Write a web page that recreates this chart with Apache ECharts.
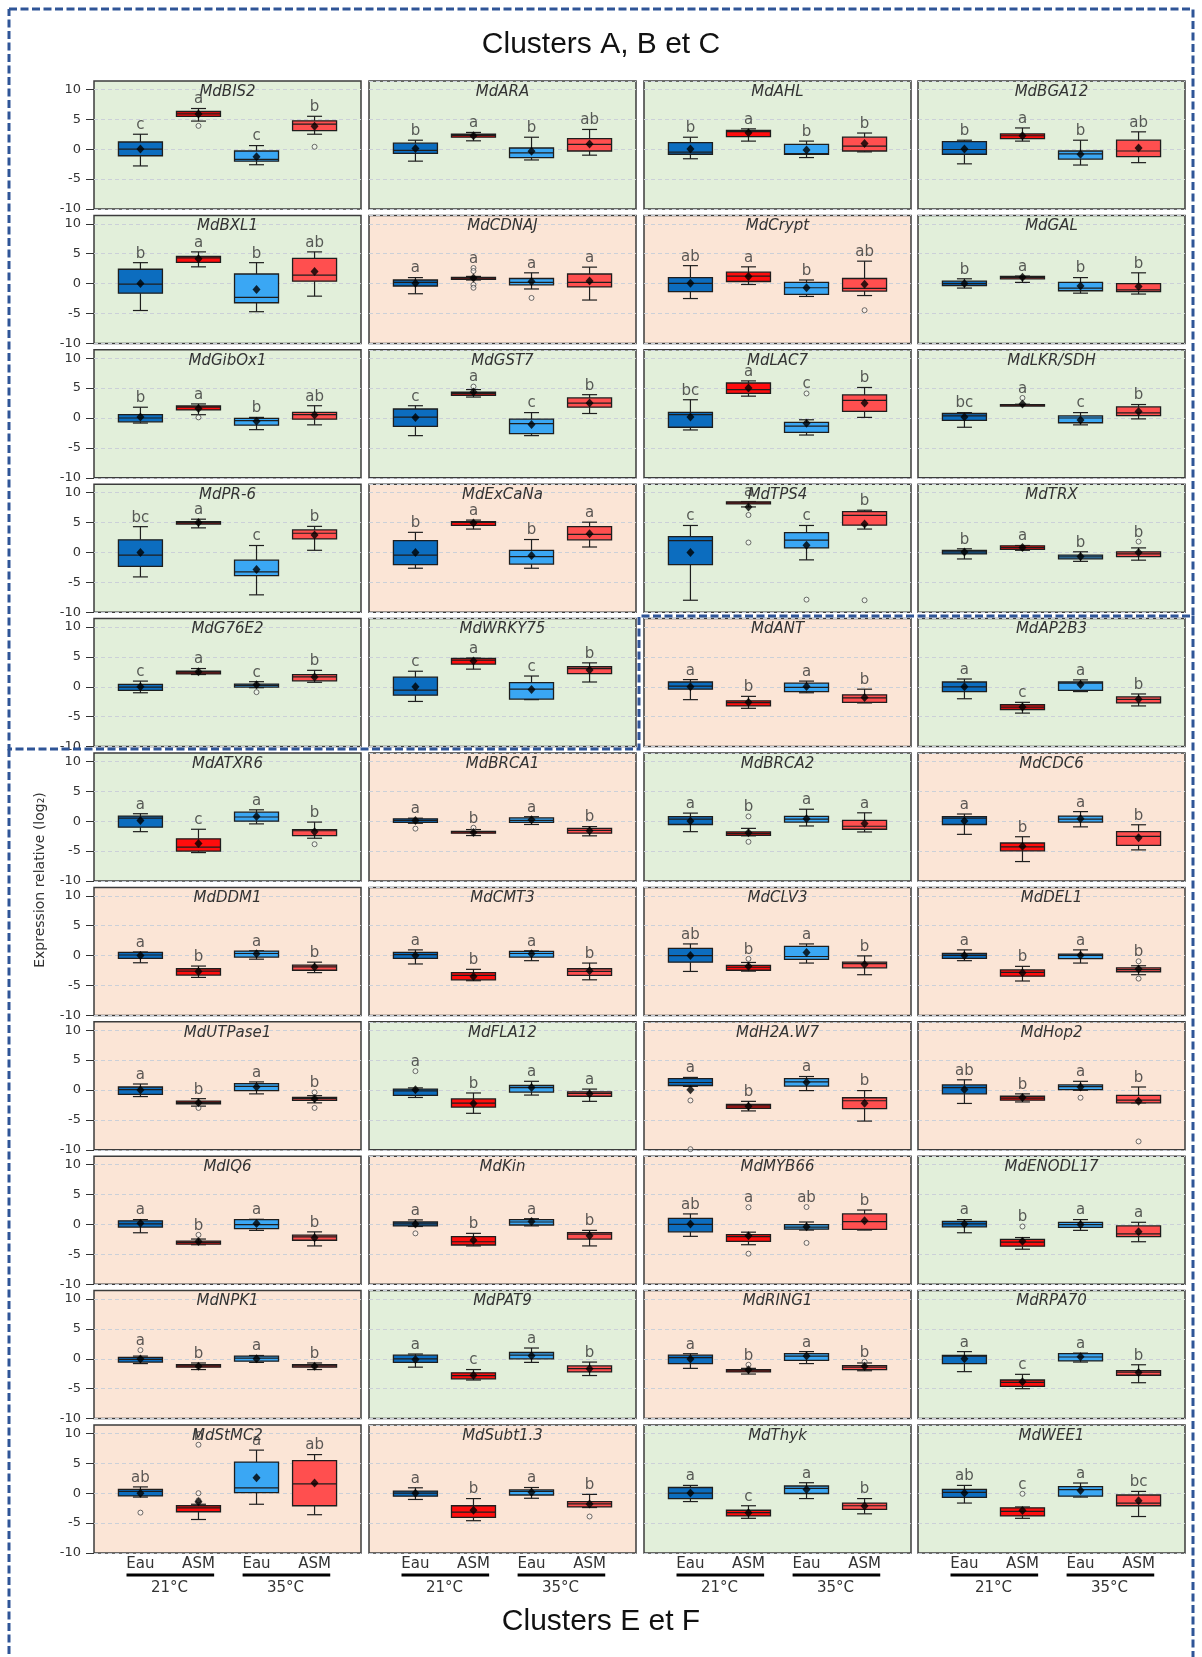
<!DOCTYPE html>
<html>
<head>
<meta charset="utf-8">
<script src="https://cdn.jsdelivr.net/npm/echarts@6/dist/echarts.min.js"></script>
<style>
  html, body { margin: 0; padding: 0; background: #ffffff; }
  #chart { width: 1202px; height: 1657px; }
</style>
</head>
<body>
<div id="chart"></div>
<script>
// ---- Data -------------------------------------------------------------
// Panels in reading order (4 per row).
const GENES = [
  'MdBIS2', 'MdARA', 'MdAHL', 'MdBGA12',
  'MdBXL1', 'MdCDNAJ', 'MdCrypt', 'MdGAL',
  'MdGibOx1', 'MdGST7', 'MdLAC7', 'MdLKR/SDH',
  'MdPR-6', 'MdExCaNa', 'MdTPS4', 'MdTRX',
  'MdG76E2', 'MdWRKY75', 'MdANT', 'MdAP2B3',
  'MdATXR6', 'MdBRCA1', 'MdBRCA2', 'MdCDC6',
  'MdDDM1', 'MdCMT3', 'MdCLV3', 'MdDEL1',
  'MdUTPase1', 'MdFLA12', 'MdH2A.W7', 'MdHop2',
  'MdIQ6', 'MdKin', 'MdMYB66', 'MdENODL17',
  'MdNPK1', 'MdPAT9', 'MdRING1', 'MdRPA70',
  'MdStMC2', 'MdSubt1.3', 'MdThyk', 'MdWEE1'
];

// Panel shading: 'G' = green, 'P' = pink.
const PANEL_KIND = [
  'G', 'G', 'G', 'G',
  'G', 'P', 'P', 'G',
  'G', 'G', 'G', 'G',
  'G', 'P', 'G', 'G',
  'G', 'G', 'P', 'G',
  'G', 'P', 'G', 'P',
  'P', 'P', 'P', 'P',
  'P', 'G', 'P', 'P',
  'P', 'P', 'P', 'G',
  'P', 'G', 'P', 'G',
  'P', 'P', 'G', 'G'
];

// Five-number summaries [min, Q1, median, Q3, max] for Eau 21, ASM 21, Eau 35, ASM 35.
const BOX_STATS = [
  [[-2.8,-1.1,0,1.2,2.5],[4.7,5.5,5.9,6.3,6.8],[-2.6,-2.0,-1.7,-0.3,0.6],[2.5,3.1,4.2,4.75,5.5]],
  [[-2.0,-0.7,-0.2,1.0,1.5],[1.4,2.0,2.3,2.5,2.8],[-1.8,-1.4,-0.6,0.2,2.0],[-1.0,-0.3,0.8,1.75,3.3]],
  [[-1.6,-0.85,-0.5,1.1,2.0],[1.35,2.1,2.95,3.15,3.4],[-1.4,-0.85,-0.75,0.8,1.35],[-0.45,-0.3,0.5,2.0,2.7]],
  [[-2.45,-0.85,-0.05,1.25,1.5],[1.35,1.75,2.25,2.55,3.55],[-2.65,-1.65,-0.8,-0.3,1.5],[-2.25,-1.25,-0.3,1.5,2.9]],
  [[-4.5,-1.6,-0.1,2.4,3.5],[2.8,3.55,4.3,4.55,5.3],[-4.7,-3.2,-2.3,1.6,3.5],[-2.1,0.4,1.4,4.2,5.3]],
  [[-1.7,-0.4,0.2,0.6,1.0],[0.6,0.7,0.9,1.05,1.2],[-0.9,-0.2,0.2,0.85,1.8],[-2.75,-0.55,0.2,1.6,2.75]],
  [[-2.5,-1.35,0.05,1.0,3.0],[-0.15,0.35,1.25,1.9,2.8],[-2.15,-1.8,-0.7,0.2,0.6],[-2.0,-1.25,-0.8,0.85,3.75]],
  [[-0.75,-0.35,0,0.4,0.8],[0.2,0.8,1.05,1.2,1.25],[-1.6,-1.2,-0.75,0.2,1.0],[-1.75,-1.35,-1.05,0,1.8]],
  [[-0.85,-0.65,0,0.55,1.8],[0.55,1.35,1.8,2.0,2.35],[-1.95,-1.2,-0.45,-0.05,0.1],[-1.15,-0.2,0.55,0.95,2.05]],
  [[-2.95,-1.4,0.15,1.5,2.05],[3.5,3.8,4.1,4.3,4.75],[-2.95,-2.6,-0.95,-0.2,0.9],[0.75,1.8,2.5,3.35,3.9]],
  [[-2.0,-1.55,0.55,0.95,3.05],[3.65,4.1,4.75,5.85,6.2],[-2.85,-2.4,-1.35,-0.75,-0.3],[0.1,1.1,2.95,3.85,5.1]],
  [[-1.55,-0.4,0.35,0.75,0.9],[2.1,2.15,2.2,2.25,2.3],[-1.15,-0.8,0,0.35,0.9],[-0.15,0.4,0.85,1.85,2.25]],
  [[-4.1,-2.35,-0.45,2.1,4.3],[4.1,4.75,5.0,5.15,5.55],[-7.1,-3.9,-3.25,-1.3,1.15],[0.35,2.25,3.2,3.75,4.35]],
  [[-2.65,-2.05,-0.45,1.95,3.35],[3.9,4.5,5.0,5.15,5.4],[-2.65,-1.95,-0.7,0.35,2.15],[0.9,2.1,3.0,4.3,5.05]],
  [[-8.0,-2.05,1.95,2.65,4.5],[7.6,8.1,8.3,8.45,8.5],[-1.25,0.75,2.05,3.3,4.5],[3.9,4.55,6.2,6.8,7.05]],
  [[-1.1,-0.25,0.1,0.35,0.6],[0.35,0.5,0.8,1.1,1.15],[-1.5,-1.1,-0.75,-0.45,0.1],[-1.3,-0.7,-0.25,0.1,0.75]],
  [[-1.0,-0.6,-0.05,0.4,0.95],[2.05,2.15,2.35,2.6,3.05],[-0.15,-0.05,0.25,0.45,0.85],[0.75,1.0,1.65,2.05,2.75]],
  [[-2.45,-1.4,-0.55,1.6,2.6],[2.95,3.8,4.45,4.75,4.8],[-2.15,-2.05,-0.4,0.7,1.8],[0.8,2.2,3.05,3.35,4.0]],
  [[-2.15,-0.4,0.1,0.8,1.2],[-3.6,-3.2,-2.65,-2.35,-1.6],[-1.0,-0.8,-0.1,0.6,0.95],[-2.7,-2.6,-1.85,-1.35,-0.4]],
  [[-2.0,-0.8,0,0.8,1.3],[-4.4,-3.8,-3.4,-3.0,-2.6],[-0.8,-0.6,0.6,0.8,1.15],[-3.2,-2.7,-2.1,-1.7,-1.2]],
  [[-1.75,-1.0,0.5,0.85,1.25],[-5.25,-5.0,-4.35,-2.95,-1.35],[-0.45,0,0.7,1.5,1.9],[-2.85,-2.4,-1.6,-1.4,-0.15]],
  [[-0.35,-0.2,0.15,0.4,0.5],[-2.4,-2.0,-1.8,-1.7,-1.4],[-0.55,-0.2,0.15,0.55,0.75],[-2.45,-2.0,-1.55,-1.2,-0.9]],
  [[-1.75,-0.55,0.35,0.75,1.35],[-2.45,-2.35,-2.05,-1.8,-1.2],[-0.8,-0.15,0.35,0.8,2.0],[-1.8,-1.35,-0.85,0.15,1.4]],
  [[-2.2,-0.55,0.5,0.75,1.2],[-6.75,-4.95,-4.3,-3.65,-2.6],[-0.95,-0.15,0.35,0.85,1.6],[-4.8,-4.05,-2.55,-1.75,-0.6]],
  [[-1.2,-0.45,0.1,0.55,0.6],[-3.65,-3.25,-2.6,-2.2,-1.75],[-0.6,-0.25,0.35,0.75,0.8],[-2.85,-2.45,-1.9,-1.6,-1.1]],
  [[-1.4,-0.45,0.15,0.55,0.95],[-4.2,-4.05,-3.3,-2.85,-2.3],[-0.85,-0.25,0.35,0.7,0.8],[-4.05,-3.3,-2.65,-2.2,-1.25]],
  [[-2.65,-1.1,0,1.2,1.95],[-2.6,-2.45,-1.95,-1.65,-1.15],[-1.25,-0.65,-0.15,1.55,1.95],[-3.2,-2.05,-1.35,-1.1,-0.05]],
  [[-0.85,-0.45,0.05,0.35,0.95],[-4.25,-3.45,-2.8,-2.4,-1.8],[-1.25,-0.5,0.05,0.25,0.95],[-3.2,-2.7,-2.35,-2.05,-1.7]],
  [[-1.1,-0.75,0.05,0.5,1.0],[-2.7,-2.3,-2.1,-1.85,-1.45],[-0.65,-0.1,0.6,1.05,1.35],[-2.15,-1.75,-1.45,-1.25,-0.95]],
  [[-1.25,-0.9,-0.15,0.15,0.35],[-3.9,-2.85,-2.2,-1.5,-0.5],[-0.85,-0.35,0.4,0.75,1.45],[-1.9,-1.05,-0.55,-0.3,0.15]],
  [[0.6,0.75,1.25,1.9,2.1],[-3.5,-3.05,-2.65,-2.4,-1.9],[-0.1,0.65,1.35,1.9,2.25],[-5.2,-3.1,-1.8,-1.3,-0.1]],
  [[-2.25,-0.65,0.4,0.85,1.7],[-2.0,-1.7,-1.35,-1.05,-0.65],[-0.05,0.05,0.55,0.85,1.45],[-2.15,-2.15,-1.7,-0.9,0.5]],
  [[-1.4,-0.45,0.1,0.6,0.8],[-3.4,-3.3,-3.0,-2.8,-2.45],[-1.0,-0.7,-0.05,0.8,0.85],[-3.6,-2.65,-2.1,-1.8,-1.25]],
  [[-0.35,-0.25,0.1,0.4,0.75],[-3.6,-3.45,-2.9,-2.05,-1.5],[-0.25,-0.1,0.4,0.8,0.95],[-3.6,-2.45,-1.65,-1.4,-1.0]],
  [[-2.0,-1.25,0,1.0,1.75],[-3.4,-2.85,-2.05,-1.7,-1.3],[-0.95,-0.8,-0.45,-0.05,0.4],[-0.95,-0.85,0.45,1.75,2.4]],
  [[-1.4,-0.4,0.1,0.5,0.8],[-4.15,-3.65,-2.95,-2.5,-2.2],[-1.0,-0.5,-0.05,0.35,0.8],[-2.9,-2.05,-1.6,-0.25,0.35]],
  [[-0.8,-0.55,-0.1,0.25,0.45],[-1.8,-1.4,-1.2,-1.0,-0.7],[-0.6,-0.4,0.1,0.45,0.55],[-1.8,-1.4,-1.2,-1.0,-0.7]],
  [[-1.4,-0.6,0,0.6,0.8],[-3.55,-3.35,-2.8,-2.35,-1.8],[-0.6,0,0.6,1.05,1.8],[-2.8,-2.2,-1.65,-1.2,-0.55]],
  [[-1.6,-0.8,0.2,0.6,0.85],[-2.55,-2.2,-2.0,-1.8,-1.6],[-0.8,-0.25,0.45,0.85,1.2],[-2.0,-1.8,-1.4,-1.15,-0.7]],
  [[-2.15,-0.8,0.45,0.55,1.2],[-5.0,-4.6,-3.95,-3.55,-2.6],[-0.55,-0.35,0.3,0.85,0.95],[-4.0,-2.75,-2.25,-2.0,-1.0]],
  [[-0.65,-0.45,0.3,0.65,1.05],[-4.4,-3.1,-2.45,-2.1,-1.85],[-1.85,0.1,0.9,5.2,7.2],[-3.6,-2.1,1.55,5.45,6.45]],
  [[-1.05,-0.5,0,0.35,0.9],[-4.6,-4.05,-3.15,-2.1,-0.9],[-0.85,-0.3,0.3,0.55,0.95],[-2.4,-2.3,-1.8,-1.4,-0.2]],
  [[-1.4,-0.9,0,0.95,1.3],[-4.2,-3.8,-3.25,-2.85,-2.1],[-0.9,-0.05,0.8,1.2,1.75],[-3.45,-2.7,-2.1,-1.65,-0.9]],
  [[-1.65,-0.7,0.15,0.65,1.3],[-4.2,-3.8,-3.05,-2.45,-2.3],[-0.65,-0.5,0.6,1.1,1.7],[-3.9,-2.1,-1.65,-0.3,0.3]]
];

// Group means (black diamonds).
const MEANS = [
  [0.05,5.9,-1.25,3.85],[0.1,2.25,-0.35,0.85],[0.05,2.75,-0.15,0.95],[0.05,2.25,-0.85,0.2],
  [0,4.15,-1.0,2.0],[0.05,0.95,0.35,0.45],[0.05,1.2,-0.7,-0.1],[0,1.05,-0.4,-0.5],
  [0.15,1.6,-0.55,0.5],[0.1,4.35,-1.1,2.5],[0.15,5.0,-0.9,2.5],[0.15,2.35,-0.35,1.1],
  [0,5.0,-2.85,2.9],[0,4.9,-0.5,3.1],[0,7.6,1.2,4.75],[0.05,0.8,-0.7,0],
  [0,2.5,0.35,1.65],[0,4.3,-0.45,2.8],[0,-2.6,0.05,-1.8],[0,-3.4,0.4,-2.1],
  [0.1,-3.75,0.8,-1.75],[0.1,-1.9,0.25,-1.6],[0.05,-1.95,0.4,-0.4],[0.05,-4.2,0.4,-2.75],
  [0,-2.65,0.3,-1.9],[0,-3.5,0.3,-2.55],[0,-1.8,0.5,-1.5],[0,-2.85,0.05,-2.25],
  [0,-2.15,0.5,-1.45],[0.05,-2.25,0.4,-0.65],[0.05,-2.7,1.3,-2.2],[0.1,-1.25,0.5,-1.9],
  [0.2,-2.85,0.15,-2.25],[0.05,-2.65,0.5,-1.9],[0.05,-1.9,-0.4,0.6],[0.05,-2.8,0,-1.25],
  [-0.05,-1.25,0,-1.25],[-0.1,-2.75,0.5,-1.65],[-0.05,-1.85,0.45,-1.25],[0,-3.85,0.35,-2.3],
  [0,-1.45,2.6,1.7],[0,-2.85,0.15,-1.8],[0.05,-3.25,0.6,-2.15],[0.05,-2.9,0.45,-1.25]
];

// Outlying observations per group (open circles).
const OUTLIERS = [
  [[],[3.9],[],[0.4]],[[],[],[],[]],[[],[],[],[]],[[],[],[],[]],
  [[],[],[],[]],[[],[2.6,2.1,-0.2,-0.7],[-2.4],[]],[[],[],[],[-4.45]],[[],[],[],[]],
  [[],[0.1],[],[]],[[],[5.25],[],[]],[[],[],[4.1],[]],[[],[3.35],[],[]],
  [[],[],[],[]],[[],[],[],[]],[[],[6.25,1.65],[-7.9],[-8.0]],[[],[],[],[1.8]],
  [[],[],[-0.9],[]],[[],[],[],[]],[[],[],[],[]],[[],[],[],[]],
  [[],[],[],[-3.85]],[[-1.25],[-1.1],[],[]],[[],[0.8,-3.45],[],[]],[[],[],[],[]],
  [[],[],[],[]],[[],[],[],[]],[[],[-0.55],[],[]],[[],[],[],[-0.95,-3.85]],
  [[],[-3.0],[],[-0.4,-3.0]],[[3.15],[],[],[]],[[-1.75,-9.9],[],[],[]],[[],[],[-1.3],[-8.6]],
  [[],[-1.75],[],[]],[[-1.5],[],[],[]],[[],[2.85,-4.9],[2.9,-3.1],[]],[[],[-0.35],[],[]],
  [[1.45],[],[],[]],[[],[],[],[]],[[],[-1.0],[],[-0.5]],[[],[],[],[]],
  [[-3.25],[8.1,0.0,-1.2],[],[]],[[],[],[],[-3.9]],[[],[],[],[]],[[],[-0.1],[],[]]
];

// Significance groups drawn above each box.
const LETTERS = [
  ['c','a','c','b'],['b','a','b','ab'],['b','a','b','b'],['b','a','b','ab'],
  ['b','a','b','ab'],['a','a','a','a'],['ab','a','b','ab'],['b','a','b','b'],
  ['b','a','b','ab'],['c','a','c','b'],['bc','a','c','b'],['bc','a','c','b'],
  ['bc','a','c','b'],['b','a','b','a'],['c','a','c','b'],['b','a','b','b'],
  ['c','a','c','b'],['c','a','c','b'],['a','b','a','b'],['a','c','a','b'],
  ['a','c','a','b'],['a','b','a','b'],['a','b','a','a'],['a','b','a','b'],
  ['a','b','a','b'],['a','b','a','b'],['ab','b','a','b'],['a','b','a','b'],
  ['a','b','a','b'],['a','b','a','a'],['a','b','a','b'],['ab','b','a','b'],
  ['a','b','a','b'],['a','b','a','b'],['ab','a','ab','b'],['a','b','a','a'],
  ['a','b','a','b'],['a','c','a','b'],['a','b','a','b'],['a','c','a','b'],
  ['ab','b','a','ab'],['a','b','a','b'],['a','c','a','b'],['ab','c','a','bc']
];

const GROUP_LABELS = ['Eau', 'ASM', 'Eau', 'ASM'];
const TEMPERATURES = ['21°C', '35°C'];
const Y_TICKS = [-10, -5, 0, 5, 10];
const CLUSTER_TITLES = ['Clusters A, B et C', 'Clusters E et F'];
const Y_AXIS_TITLE = 'Expression relative (log₂)';

// ---- Layout & style ---------------------------------------------------
const NCOLS = 4;
const NROWS = Math.ceil(GENES.length / NCOLS);
const COL_LEFT = [94, 369, 644, 918];
const ROW_TOP = 81;
const ROW_PITCH = 134.4;
const PANEL_W = 267;
const PANEL_H = 128;
const X_MIN = 0.2, X_MAX = 4.8;
const Y_MIN = -10, Y_MAX = 11.4;
const BOX_W = 44;
const CAP_W = 15;
const STROKE = '#1e1e1e';
const BOX_COLORS = ['#0c6dbf', '#ff0d0d', '#3aa7f4', '#ff4f4f'];
const BG = { G: '#e2efda', P: '#fbe5d6' };
const FONT = 'DejaVu Sans';
const TEXT = '#333333';
const DASH_BLUE = '#2f5597';

function drawBox(params, api) {
  const x = api.value(0);
  const pMin = api.coord([x, api.value(1)]);
  const pQ1 = api.coord([x, api.value(2)]);
  const pMed = api.coord([x, api.value(3)]);
  const pQ3 = api.coord([x, api.value(4)]);
  const pMax = api.coord([x, api.value(5)]);
  const cx = pMin[0], hw = BOX_W / 2, hc = CAP_W / 2;
  const line = { stroke: STROKE, lineWidth: 1.2 };
  return {
    type: 'group',
    children: [
      { type: 'line', shape: { x1: cx, y1: pMax[1], x2: cx, y2: pQ3[1] }, style: line },
      { type: 'line', shape: { x1: cx, y1: pQ1[1], x2: cx, y2: pMin[1] }, style: line },
      { type: 'line', shape: { x1: cx - hc, y1: pMax[1], x2: cx + hc, y2: pMax[1] }, style: line },
      { type: 'line', shape: { x1: cx - hc, y1: pMin[1], x2: cx + hc, y2: pMin[1] }, style: line },
      {
        type: 'rect',
        shape: { x: cx - hw, y: pQ3[1], width: BOX_W, height: Math.max(pQ1[1] - pQ3[1], 1.5) },
        style: { fill: BOX_COLORS[params.dataIndex], stroke: STROKE, lineWidth: 1.3 }
      },
      { type: 'line', shape: { x1: cx - hw, y1: pMed[1], x2: cx + hw, y2: pMed[1] }, style: { stroke: STROKE, lineWidth: 1.2 } }
    ]
  };
}

// Bar under each temperature pair, drawn just below the bottom axis.
function drawPairBar(params, api) {
  const a = api.coord([api.value(0), api.value(2)]);
  const b = api.coord([api.value(1), api.value(2)]);
  return {
    type: 'line',
    shape: { x1: a[0], y1: a[1] + 22, x2: b[0], y2: b[1] + 22 },
    style: { stroke: '#000', lineWidth: 3.2 }
  };
}

const grids = [], xAxes = [], yAxes = [], series = [], graphics = [];
const extraX = [];

GENES.forEach((gene, k) => {
  const r = Math.floor(k / NCOLS), c = k % NCOLS;
  const left = COL_LEFT[c];
  const top = ROW_TOP + r * ROW_PITCH;
  const isBottom = r === NROWS - 1;
  const isFirstCol = c === 0;

  grids.push({
    left, top, width: PANEL_W, height: PANEL_H,
    show: true, backgroundColor: BG[PANEL_KIND[k]],
    borderColor: '#3c3c3c', borderWidth: 1.5,
    containLabel: false, outerBoundsMode: 'none'
  });

  xAxes.push({
    gridIndex: k, type: 'value', min: X_MIN, max: X_MAX,
    axisLine: { show: false }, axisTick: { show: false }, splitLine: { show: false },
    axisLabel: isBottom ? {
      show: true, customValues: [1, 2, 3, 4], margin: 4,
      fontSize: 15, color: TEXT, fontFamily: FONT,
      formatter: v => (Number.isInteger(v) && v >= 1 && v <= 4) ? GROUP_LABELS[v - 1] : ''
    } : { show: false }
  });

  yAxes.push({
    gridIndex: k, type: 'value', min: Y_MIN, max: Y_MAX, interval: 5,
    axisLine: { show: false },
    axisTick: isFirstCol ? { show: true, customValues: Y_TICKS, length: 8, lineStyle: { color: '#333', width: 1 } } : { show: false },
    axisLabel: isFirstCol ? {
      show: true, customValues: Y_TICKS, margin: 13, fontSize: 13, color: TEXT, fontFamily: FONT,
      formatter: v => (v % 5 === 0 ? String(v) : '')
    } : { show: false },
    splitLine: { show: true, lineStyle: { color: '#cbd0d8', type: [4, 3], width: 1 } }
  });

  const stats = BOX_STATS[k];
  series.push({
    type: 'custom', xAxisIndex: k, yAxisIndex: k, silent: true, z: 2,
    renderItem: drawBox,
    encode: { x: 0, y: [1, 2, 3, 4, 5] },
    data: stats.map((s, i) => [i + 1].concat(s))
  });

  const outPts = [];
  OUTLIERS[k].forEach((list, i) => list.forEach(v => outPts.push([i + 1, v])));
  series.push({
    type: 'scatter', xAxisIndex: k, yAxisIndex: k, silent: true, z: 3,
    symbol: 'circle', symbolSize: 5,
    itemStyle: { color: 'rgba(255,255,255,0.5)', borderColor: '#4a4a4a', borderWidth: 1 },
    data: outPts
  });

  series.push({
    type: 'scatter', xAxisIndex: k, yAxisIndex: k, silent: true, z: 4,
    symbol: 'diamond', symbolSize: [8, 9],
    itemStyle: { color: '#000' },
    data: MEANS[k].map((m, i) => [i + 1, m])
  });

  series.push({
    type: 'scatter', xAxisIndex: k, yAxisIndex: k, silent: true, z: 5,
    symbol: 'circle', symbolSize: 1,
    itemStyle: { color: 'rgba(0,0,0,0)' },
    label: {
      show: true, position: 'top', distance: 1, formatter: '{b}',
      fontSize: 15, color: TEXT, fontFamily: FONT
    },
    data: LETTERS[k].map((L, i) => ({
      name: L,
      value: [i + 1, Math.max(stats[i][4], ...OUTLIERS[k][i])]
    }))
  });

  if (isBottom) {
    // Second bottom axis carrying the temperature of each pair.
    extraX.push({
      gridIndex: k, type: 'value', min: X_MIN, max: X_MAX, position: 'bottom', offset: 23,
      axisLine: { show: false }, axisTick: { show: false }, splitLine: { show: false },
      axisLabel: {
        show: true, customValues: [1.5, 3.5], margin: 4.5,
        fontSize: 15, color: TEXT, fontFamily: FONT,
        formatter: v => TEMPERATURES[v < 2.5 ? 0 : 1]
      }
    });
    series.push({
      type: 'custom', xAxisIndex: k, yAxisIndex: k, silent: true, clip: false, z: 2,
      renderItem: drawPairBar,
      encode: { x: [0, 1], y: 2 },
      data: [[1, 2], [3, 4]].map(p => [p[0] - 0.24, p[1] + 0.27, Y_MIN])
    });
  }

  graphics.push({
    type: 'text', x: left + PANEL_W / 2, y: top + 11, z: 10, silent: true,
    style: {
      text: gene, textAlign: 'center', textVerticalAlign: 'middle',
      font: 'italic 15px "DejaVu Sans"', fill: TEXT
    }
  });
});

// Dashed outlines of the two cluster groups.
const dashStyle = { stroke: DASH_BLUE, lineWidth: 3, lineDash: [8, 3.5], fill: null };
graphics.push(
  { type: 'polyline', z: 20, silent: true, shape: { points: [[9, 9], [1193, 9], [1193, 616], [639, 616], [639, 749], [9, 749], [9, 9]] }, style: dashStyle },
  { type: 'polyline', z: 20, silent: true, shape: { points: [[9, 749], [9, 1662]] }, style: dashStyle },
  { type: 'polyline', z: 20, silent: true, shape: { points: [[1193, 616], [1193, 1662]] }, style: dashStyle }
);

// Cluster titles and shared y-axis title.
graphics.push(
  { type: 'text', x: 601, y: 45, z: 10, silent: true,
    style: { text: CLUSTER_TITLES[0], textAlign: 'center', textVerticalAlign: 'middle', font: '30px "Liberation Sans"', fill: '#111' } },
  { type: 'text', x: 601, y: 1622, z: 10, silent: true,
    style: { text: CLUSTER_TITLES[1], textAlign: 'center', textVerticalAlign: 'middle', font: '30px "Liberation Sans"', fill: '#111' } },
  { type: 'text', x: 40, y: 880, rotation: Math.PI / 2, z: 10, silent: true,
    style: { text: Y_AXIS_TITLE, textAlign: 'center', textVerticalAlign: 'middle', font: '14px "DejaVu Sans"', fill: TEXT } }
);

const chart = echarts.init(document.getElementById('chart'), null, { renderer: 'canvas', width: 1202, height: 1657 });
chart.setOption({
  backgroundColor: '#ffffff',
  animation: false,
  textStyle: { fontFamily: FONT },
  grid: grids,
  xAxis: xAxes.concat(extraX),
  yAxis: yAxes,
  series: series,
  graphic: graphics
});
</script>
</body>
</html>
